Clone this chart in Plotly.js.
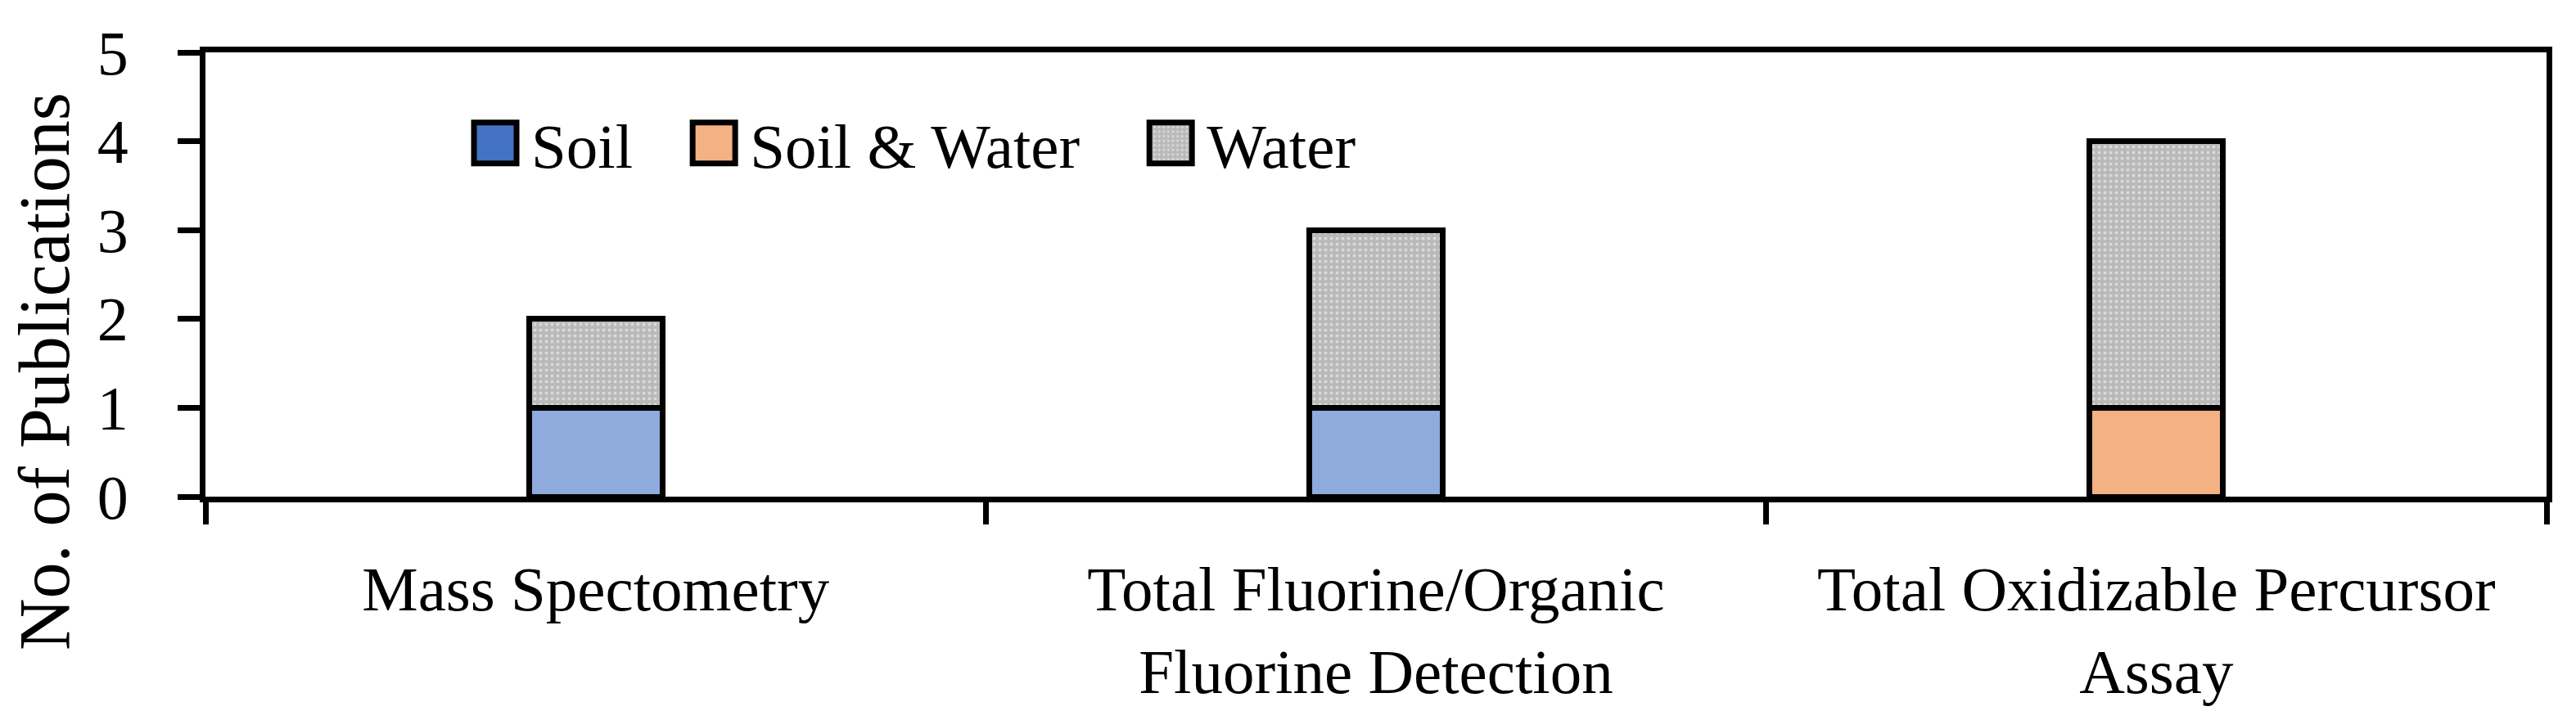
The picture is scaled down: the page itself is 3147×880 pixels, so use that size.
<!DOCTYPE html>
<html>
<head>
<meta charset="utf-8">
<script src="https://cdn.plot.ly/plotly-3.0.1.min.js"></script>
<style>
  body { margin: 0; background: #fff; }
  #pubPlot { width: 3147px; height: 880px; }
</style>
</head>
<body>
<div id="pubPlot"></div>
<script>
// categories along the x axis
const methods = [
  "Mass Spectometry",
  "Total Fluorine/Organic<br>Fluorine Detection",
  "Total Oxidizable Percursor<br>Assay"
];

// number of publications per matrix (stacked)
const soilCounts = [1, 1, null];
const soilWaterCounts = [null, null, 1];
const waterCounts = [1, 2, 3];

const yTicks = [0, 1, 2, 3, 4, 5];

const serif = "Liberation Serif, Times New Roman, serif";
const outline = {color: "#000", width: 7};
const barWidth = 0.171;

const pubData = [
  {
    x: methods,
    y: soilCounts,
    name: "Soil",
    type: "bar",
    width: barWidth,
    marker: {color: "#8faadc", line: outline}
  },
  {
    x: methods,
    y: soilWaterCounts,
    name: "Soil & Water",
    type: "bar",
    width: barWidth,
    marker: {color: "#f4b183", line: outline}
  },
  {
    x: methods,
    y: waterCounts,
    name: "Water",
    type: "bar",
    width: barWidth,
    marker: {
      color: "#b9b9b9",
      line: outline,
      pattern: {shape: ".", bgcolor: "#b9b9b9", fgcolor: "#dadada", size: 7, solidity: 0.25}
    }
  }
];

const layout = {
  width: 3147,
  height: 880,
  barmode: "stack",
  paper_bgcolor: "#fff",
  plot_bgcolor: "#fff",
  font: {family: serif, size: 76, color: "#000"},
  margin: {l: 251, r: 36, t: 64, b: 273},
  showlegend: true,
  legend: {
    orientation: "h",
    x: 0.1084, xanchor: "left",
    y: 0.795, yanchor: "middle",
    itemwidth: 78,
    font: {family: serif, size: 77},
    bgcolor: "rgba(0,0,0,0)",
    traceorder: "normal"
  },
  xaxis: {
    type: "category",
    tickson: "boundaries",
    ticks: "outside",
    ticklen: 27,
    tickwidth: 7,
    tickcolor: "#000",
    showline: true,
    linewidth: 7,
    linecolor: "#000",
    mirror: true,
    showgrid: false,
    zeroline: false,
    ticklabelstandoff: 40,
    tickfont: {family: serif, size: 77}
  },
  yaxis: {
    range: [0, 5],
    tickvals: yTicks,
    ticks: "outside",
    ticklen: 27,
    tickwidth: 7,
    tickcolor: "#000",
    showline: true,
    linewidth: 7,
    linecolor: "#000",
    mirror: true,
    showgrid: false,
    zeroline: false,
    ticklabelstandoff: 45,
    tickfont: {family: serif, size: 76}
  },
  annotations: [{
    text: "No. of Publications",
    xref: "paper", yref: "paper",
    x: -0.0685, y: 0.282,
    xanchor: "center", yanchor: "middle",
    textangle: -90,
    showarrow: false,
    font: {family: serif, size: 88}
  }]
};

// the original legend has bigger boxes, a darker Soil swatch and wider gaps
const legendBoxColors = ["#4472c4", null, null];
const legendShift = [0, 50, 112];

Plotly.newPlot("pubPlot", pubData, layout, {staticPlot: true}).then(function (gd) {
  gd.querySelectorAll(".legend .scrollbox, .legend").forEach(function (g) {
    g.removeAttribute("clip-path");
  });
  const items = gd.querySelectorAll(".legend .traces");
  items.forEach(function (item, i) {
    item.querySelectorAll(".legendpoints path").forEach(function (p) {
      p.setAttribute("d", "M26,25H-26V-25H26Z");
      p.style.strokeWidth = "7px";
      if (legendBoxColors[i]) p.style.fill = legendBoxColors[i];
    });
    const tr = item.getAttribute("transform") || "";
    const m = tr.match(/translate\(\s*([-\d.]+)[ ,]+([-\d.]+)\s*\)/);
    if (m) {
      const nx = parseFloat(m[1]) + legendShift[i];
      item.setAttribute("transform", "translate(" + nx + "," + m[2] + ")");
    }
  });
});
</script>
</body>
</html>
